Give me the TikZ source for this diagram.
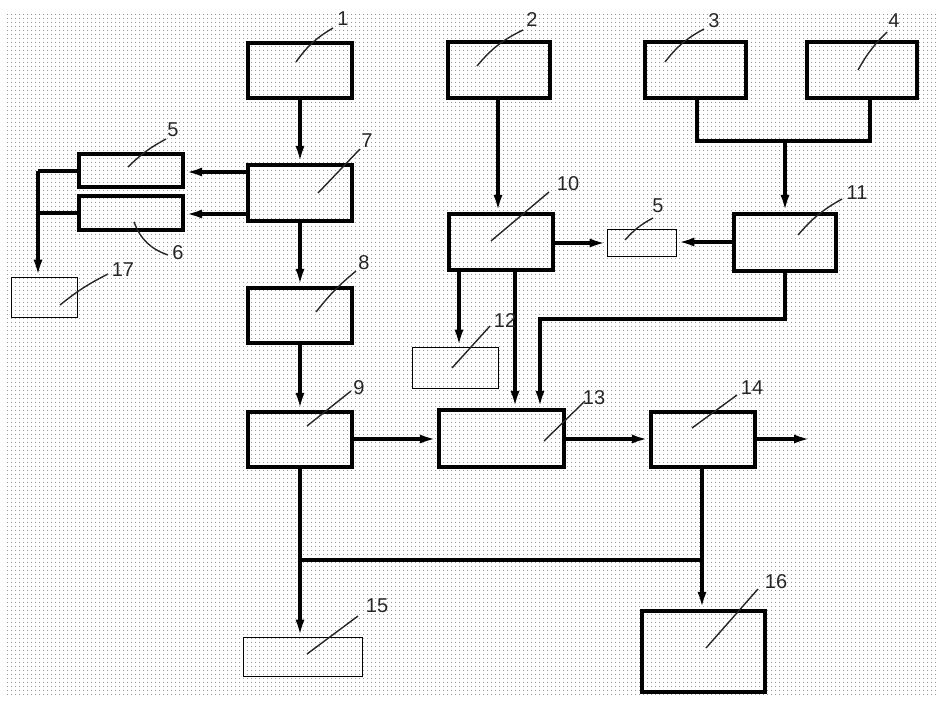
\documentclass[tikz,border=0pt]{standalone}
\usepackage{fontspec}
\setmainfont{Liberation Sans}
\usetikzlibrary{arrows.meta,patterns.meta}
\begin{document}
\begin{tikzpicture}[x=1pt,y=-1pt,
  bx/.style={draw=black,line width=4.2pt,inner sep=0pt},
  tbx/.style={draw=black,line width=1.7pt,inner sep=0pt},
  con/.style={line width=3.6pt},
  arr/.style={line width=3.6pt,-{Latex[length=17pt,width=9pt]}},
  leader/.style={line width=1.4pt,black!85},
  lbl/.style={font=\fontsize{20}{20}\selectfont,inner sep=0pt,text=black!85}]
\useasboundingbox (0,0) rectangle (937,721);
\fill[white] (0,0) rectangle (937,721);
\fill[pattern={Dots[radius=0.65pt,distance=4pt]},pattern color=black!45] (7,13) rectangle (937,695);
% boxes
\node[bx,minimum width=104pt,minimum height=55pt] (b1) at (300,70.5) {};
\node[bx,minimum width=102pt,minimum height=56pt] (b2) at (499,70) {};
\node[bx,minimum width=101pt,minimum height=56pt] (b3) at (695.5,70) {};
\node[bx,minimum width=110pt,minimum height=56pt] (b4) at (862,70) {};
\node[bx,minimum width=104pt,minimum height=33pt] (b5) at (131,170.5) {};
\node[bx,minimum width=104pt,minimum height=34pt] (b6) at (131,213) {};
\node[bx,minimum width=104pt,minimum height=56pt] (b7) at (300,193) {};
\node[tbx,minimum width=66pt,minimum height=40pt] (b17) at (44.5,297.5) {};
\node[bx,minimum width=104pt,minimum height=55pt] (b8) at (300,315.5) {};
\node[bx,minimum width=104pt,minimum height=56pt] (b10) at (501,242) {};
\node[tbx,minimum width=69pt,minimum height=27pt] (b5m) at (642,243) {};
\node[bx,minimum width=102pt,minimum height=57pt] (b11) at (785,242.5) {};
\node[tbx,minimum width=86pt,minimum height=41pt] (b12) at (455.5,368) {};
\node[bx,minimum width=104pt,minimum height=55pt] (b9) at (300,439.5) {};
\node[bx,minimum width=125pt,minimum height=57pt] (b13) at (501.5,438.5) {};
\node[bx,minimum width=104pt,minimum height=55pt] (b14) at (703,439.5) {};
\node[tbx,minimum width=119pt,minimum height=39pt] (b15) at (303,657) {};
\node[bx,minimum width=123pt,minimum height=81pt] (b16) at (703.5,651.5) {};
% connectors
\draw[arr] (b1.south) -- (b7.north);
\draw[arr] (b7.west |- 0,172) -- (b5.east |- 0,172);
\draw[arr] (b7.west |- 0,214) -- (b6.east |- 0,214);
\coordinate (lb) at (38,171);
\draw[con] (b5.west |- lb) -- (lb);
\draw[arr] (lb) -- (lb |- b17.north);
\draw[con] (b6.west |- 0,213) -- (38,213);
\draw[arr] (b7.south) -- (b8.north);
\draw[arr] (b8.south) -- (b9.north);
\draw[arr] (b2.south -| 498,0) -- (b10.north -| 498,0);
\coordinate (j3) at (697,141);
\coordinate (j4) at (870,141);
\coordinate (j11) at (785,141);
\draw[con] (b3.south -| j3) -- (j3) -- (j4) -- (b4.south -| j4);
\draw[arr] (j11) -- (b11.north);
\draw[arr] (b10.east |- 0,243) -- (b5m.west |- 0,243);
\draw[arr] (b11.west |- 0,242) -- (b5m.east |- 0,242);
\draw[arr] (b10.south -| 459,0) -- (b12.north -| 459,0);
\draw[arr] (b10.south -| 515,0) -- (b13.north -| 515,0);
\coordinate (k1) at (785,319);
\coordinate (k2) at (540,319);
\draw[arr] (b11.south) -- (k1) -- (k2) -- (b13.north -| k2);
\draw[arr] (b9.east |- 0,439) -- (b13.west |- 0,439);
\draw[arr] (b13.east |- 0,439) -- (b14.west |- 0,439);
\coordinate (out) at (811,439);
\draw[arr] (b14.east |- out) -- (out);
\draw[arr] (b9.south) -- (b15.north -| b9.south);
\coordinate (m1) at (300,560);
\coordinate (m2) at (702,560);
\draw[con] (m1) -- (m2);
\draw[arr] (b14.south -| m2) -- (b16.north -| m2);
% labels
\node[lbl] (l1) at (343,19) {1};
\node[lbl] (l2) at (532,20) {2};
\node[lbl] (l3) at (714,21) {3};
\node[lbl] (l4) at (894,21) {4};
\node[lbl] (l5) at (173,130) {5};
\node[lbl] (l6) at (178,253) {6};
\node[lbl] (l7) at (367,141) {7};
\node[lbl] (l17) at (123,270) {17};
\node[lbl] (l8) at (364,263) {8};
\node[lbl] (l10) at (568,184) {10};
\node[lbl] (l5m) at (658,206) {5};
\node[lbl] (l11) at (857,193) {11};
\node[lbl] (l12) at (505,321) {12};
\node[lbl] (l9) at (359,388) {9};
\node[lbl] (l13) at (594,398) {13};
\node[lbl] (l14) at (752,388) {14};
\node[lbl] (l15) at (377,606) {15};
\node[lbl] (l16) at (776,582) {16};
% leaders
\coordinate (p1) at (296,62);   \draw[leader] (p1) to[bend left=12] (333,28);
\coordinate (p2) at (477,66);   \draw[leader] (p2) to[bend left=12] (523,30);
\coordinate (p3) at (665,62);   \draw[leader] (p3) to[bend left=12] (704,29);
\coordinate (p4) at (858,70);   \draw[leader] (p4) to[bend left=8] (887,32);
\coordinate (p5) at (128,167);  \draw[leader] (p5) to[bend left=8] (166,139);
\coordinate (p6) at (134,222);  \draw[leader] (p6) to[bend right=25] (168,255);
\coordinate (p7) at (318,193);  \draw[leader] (p7) -- (360,149);
\coordinate (p17) at (60,305);  \draw[leader] (p17) to[bend left=6] (108,274);
\coordinate (p8) at (316,312);  \draw[leader] (p8) to[bend left=6] (356,271);
\coordinate (p10) at (491,241); \draw[leader] (p10) -- (549,192);
\coordinate (p5m) at (625,240); \draw[leader] (p5m) to[bend left=10] (653,218);
\coordinate (p11) at (798,235); \draw[leader] (p11) to[bend left=10] (842,199);
\coordinate (p12) at (452,368); \draw[leader] (p12) -- (490,326);
\coordinate (p9) at (307,426);  \draw[leader] (p9) -- (351,391);
\coordinate (p13) at (544,441); \draw[leader] (p13) -- (585,401);
\coordinate (p14) at (692,428); \draw[leader] (p14) -- (737,395);
\coordinate (p15) at (307,654); \draw[leader] (p15) -- (358,616);
\coordinate (p16) at (706,648); \draw[leader] (p16) -- (758,589);
\end{tikzpicture}
\end{document}
